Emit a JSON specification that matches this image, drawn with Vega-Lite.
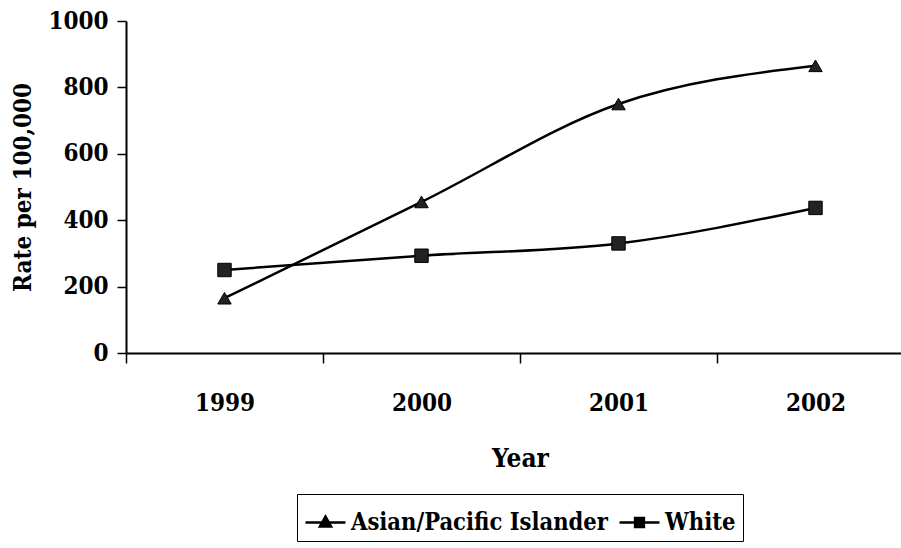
{
  "$schema": "https://vega.github.io/schema/vega-lite/v6.json",
  "width": 775,
  "height": 332,
  "autosize": {"type": "none"},
  "padding": {"left": 126, "top": 21, "right": 0, "bottom": 195},
  "background": "white",
  "config": {
    "view": {"stroke": null},
    "font": "DejaVu Serif Condensed",
    "legend": {"strokeColor": "black", "padding": 7},
    "axis": {
      "domainColor": "black",
      "domainWidth": 2,
      "tickColor": "black",
      "tickWidth": 1.5,
      "labelColor": "black",
      "titleColor": "black",
      "labelFont": "DejaVu Serif Condensed",
      "titleFont": "DejaVu Serif Condensed",
      "labelFontWeight": "bold",
      "titleFontWeight": "bold",
      "labelFontSize": 24,
      "titleFontSize": 24,
      "grid": false
    }
  },
  "data": {
    "values": [
      {"year": "1999", "group": "Asian/Pacific Islander", "rate": 165},
      {"year": "2000", "group": "Asian/Pacific Islander", "rate": 455},
      {"year": "2001", "group": "Asian/Pacific Islander", "rate": 750},
      {"year": "2002", "group": "Asian/Pacific Islander", "rate": 865},
      {"year": "1999", "group": "White", "rate": 250},
      {"year": "2000", "group": "White", "rate": 293},
      {"year": "2001", "group": "White", "rate": 330},
      {"year": "2002", "group": "White", "rate": 437}
    ]
  },
  "encoding": {
    "x": {
      "field": "year",
      "type": "ordinal",
      "scale": {"type": "band", "range": [0, 788], "paddingInner": 0, "paddingOuter": 0},
      "axis": {
        "title": "Year",
        "titleFontSize": 26,
        "labelAngle": 0,
        "tickBand": "extent",
        "tickSize": 10,
        "labelPadding": 28,
        "titlePadding": 30
      }
    },
    "y": {
      "field": "rate",
      "type": "quantitative",
      "scale": {"domain": [0, 1000], "nice": false},
      "axis": {
        "title": "Rate per 100,000",
        "values": [0, 200, 400, 600, 800, 1000],
        "format": "d",
        "tickSize": 9,
        "labelPadding": 9,
        "titlePadding": 12
      }
    }
  },
  "layer": [
    {
      "mark": {"type": "line", "interpolate": "monotone", "color": "black", "strokeWidth": 2.5},
      "encoding": {"detail": {"field": "group"}}
    },
    {
      "mark": {"type": "point", "filled": false, "color": "black", "opacity": 0, "size": 1600},
      "encoding": {
        "shape": {
          "field": "group",
          "scale": {
            "domain": ["Asian/Pacific Islander", "White"],
            "range": [
              "M-1,0H1M0,-0.3L0.28,0.2L-0.28,0.2ZM0,-0.12L0.12,0.12L-0.12,0.12Z",
              "M-1,0H1M-0.22,-0.22H0.22V0.22H-0.22ZM-0.1,-0.1H0.1V0.1H-0.1Z"
            ]
          },
          "legend": {
            "title": null,
            "orient": "none",
            "direction": "horizontal",
            "legendX": 171,
            "legendY": 473,
            "symbolSize": 1600,
            "symbolOpacity": 1,
            "symbolStrokeColor": "black",
            "symbolStrokeWidth": 2.5,
            "labelFont": "DejaVu Serif Condensed",
            "labelFontWeight": "bold",
            "labelFontSize": 23.5,
            "labelColor": "black",
            "labelOffset": 4,
            "columnPadding": 6,
            "labelLimit": 400
          }
        }
      }
    },
    {
      "mark": {"type": "point", "filled": true, "color": "#222222", "stroke": "black", "strokeWidth": 1, "size": 180, "opacity": 1},
      "encoding": {
        "shape": {
          "field": "group",
          "scale": {"domain": ["Asian/Pacific Islander", "White"], "range": ["triangle-up", "square"]},
          "legend": null
        }
      }
    }
  ],
  "resolve": {"scale": {"shape": "independent"}}
}
